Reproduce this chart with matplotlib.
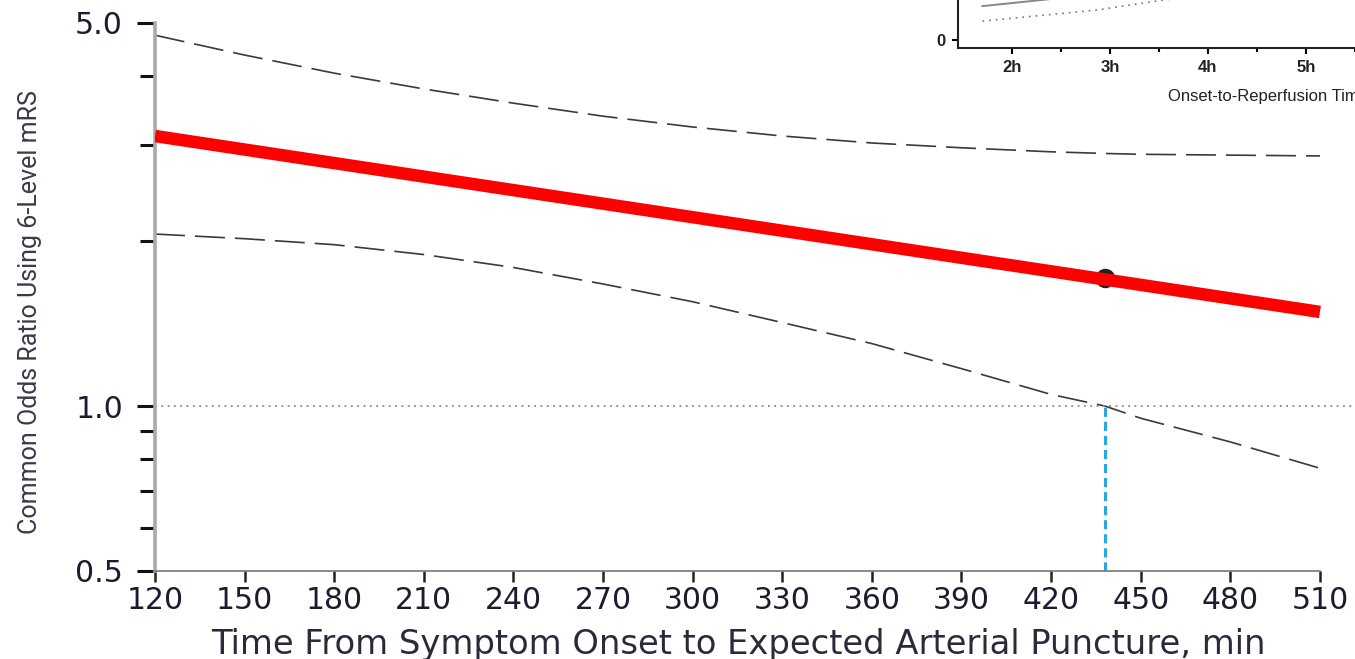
import numpy as np
import matplotlib
matplotlib.use("Agg")
import matplotlib.pyplot as plt
from matplotlib.ticker import NullFormatter

# time from onset (min) and common odds ratio with 95% CI bounds
t = [120, 150, 180, 210, 240, 270, 300, 330, 360, 390, 420, 438, 450, 480, 510]
upper = [4.75, 4.37, 4.05, 3.79, 3.57, 3.38, 3.23, 3.11, 3.02, 2.96, 2.91, 2.89, 2.88, 2.87, 2.86]
lower = [2.06, 2.02, 1.97, 1.89, 1.79, 1.67, 1.55, 1.42, 1.30, 1.17, 1.05, 1.00, 0.95, 0.86, 0.77]
fit_t = [120, 510]
fit_or = [3.11, 1.485]
cross_t = 438
cross_or = 1.71

# small panel: onset-to-reperfusion time (h)
in_h1 = [1.70, 2.35, 3.00]
in_y1 = [1.13, 1.35, 1.60]
in_h2 = [1.70, 2.87, 3.54, 4.20]
in_y2 = [0.63, 1.00, 1.33, 1.60]

W, H = 1355, 659
fig = plt.figure(figsize=(W / 100, H / 100), dpi=100)
ax = fig.add_axes([155 / W, 88 / H, 1200 / W, 548 / H])

ax.set_yscale('log')
ax.set_xlim(120, 120 + 1200 / 2.987)
ax.set_ylim(0.5, 5.0)

dash = (0, (18, 6))
ax.plot(t, upper, color='#3a3a3a', lw=1.2, linestyle=dash)
ax.plot(t, lower, color='#3a3a3a', lw=1.2, linestyle=dash)
ax.axhline(1.0, color='#888888', lw=1.3, linestyle=(0, (1, 2.5)))
ax.plot([cross_t, cross_t], [0.5, 1.0], color='#2aa7e0', lw=2.2,
        linestyle=(0, (3, 1.6)))
ax.plot([cross_t], [cross_or], 'o', color='#222222', ms=13, zorder=3)
ax.plot(fit_t, fit_or, color='#ff0000', lw=9, solid_capstyle='butt', zorder=4)

tick_color = '#1c1c2e'
ax.set_yticks([0.5, 1.0, 5.0])
ax.set_yticklabels(['0.5', '1.0', '5.0'])
ax.set_yticks([0.6, 0.7, 0.8, 0.9, 2, 3, 4], minor=True)
ax.yaxis.set_minor_formatter(NullFormatter())
ax.tick_params(axis='y', which='major', length=13, width=2.2, color='#111111',
               labelsize=21.5, labelcolor=tick_color, pad=10)
ax.tick_params(axis='y', which='minor', length=11, width=2.2, color='#111111')

ax.set_xticks(list(range(120, 511, 30)))
ax.tick_params(axis='x', length=8, width=1.8, color='#222222',
               labelsize=21.5, labelcolor=tick_color, pad=3)

for s in ['top', 'right']:
    ax.spines[s].set_visible(False)
ax.spines['left'].set_color('#aaaaaa')
ax.spines['left'].set_linewidth(2.6)
ax.spines['bottom'].set_color('#777777')
ax.spines['bottom'].set_linewidth(1.2)
ax.spines['bottom'].set_bounds(120, 510)

ax.set_ylabel('Common Odds Ratio Using 6-Level mRS', fontsize=18,
              color='#3a3a4a', family='Roboto')
ax.yaxis.set_label_coords((42 - 155) / 1200, (571 - 312) / 548)
ax.set_xlabel('Time From Symptom Onset to Expected Arterial Puncture, min',
              fontsize=24.3, color='#2a2a3a')
ax.xaxis.set_label_coords((738 - 155) / 1200, (571 - 628) / 548)

# inset panel in the upper right corner
axi = fig.add_axes([958 / W, (H - 48) / H, 0.4, 0.2])
axi.set_xlim(1.45, 1.45 + 0.4 * W / 98)
axi.set_ylim(-8 / 30, (0.2 * H - 8) / 30)
axi.plot(in_h1, in_y1, color='#888888', lw=1.4)
axi.plot(in_h2, in_y2, color='#777777', lw=1.2, linestyle=(0, (1, 3)))
for s in ['top', 'right']:
    axi.spines[s].set_visible(False)
for s in ['left', 'bottom']:
    axi.spines[s].set_linewidth(1.5)
    axi.spines[s].set_color('#222222')
axi.set_xticks([2, 3, 4, 5, 6])
axi.set_xticklabels(['2h', '3h', '4h', '5h', '6h'])
axi.set_xticks([2.5, 3.5, 4.5, 5.5], minor=True)
axi.set_yticks([0])
axi.tick_params(axis='both', which='major', length=4, width=1.5,
                labelsize=12, pad=5)
axi.tick_params(axis='x', which='minor', length=3, width=1.5)
for lab in axi.get_xticklabels() + axi.get_yticklabels():
    lab.set_family('Liberation Sans')
    lab.set_fontweight('bold')
    lab.set_color('#222222')
fig.text(1168 / W, 1 - 96 / H, 'Onset-to-Reperfusion Time, h', fontsize=12,
         family='Liberation Sans', color='#222222', ha='left', va='center')

fig.savefig('out.png', dpi=100)
